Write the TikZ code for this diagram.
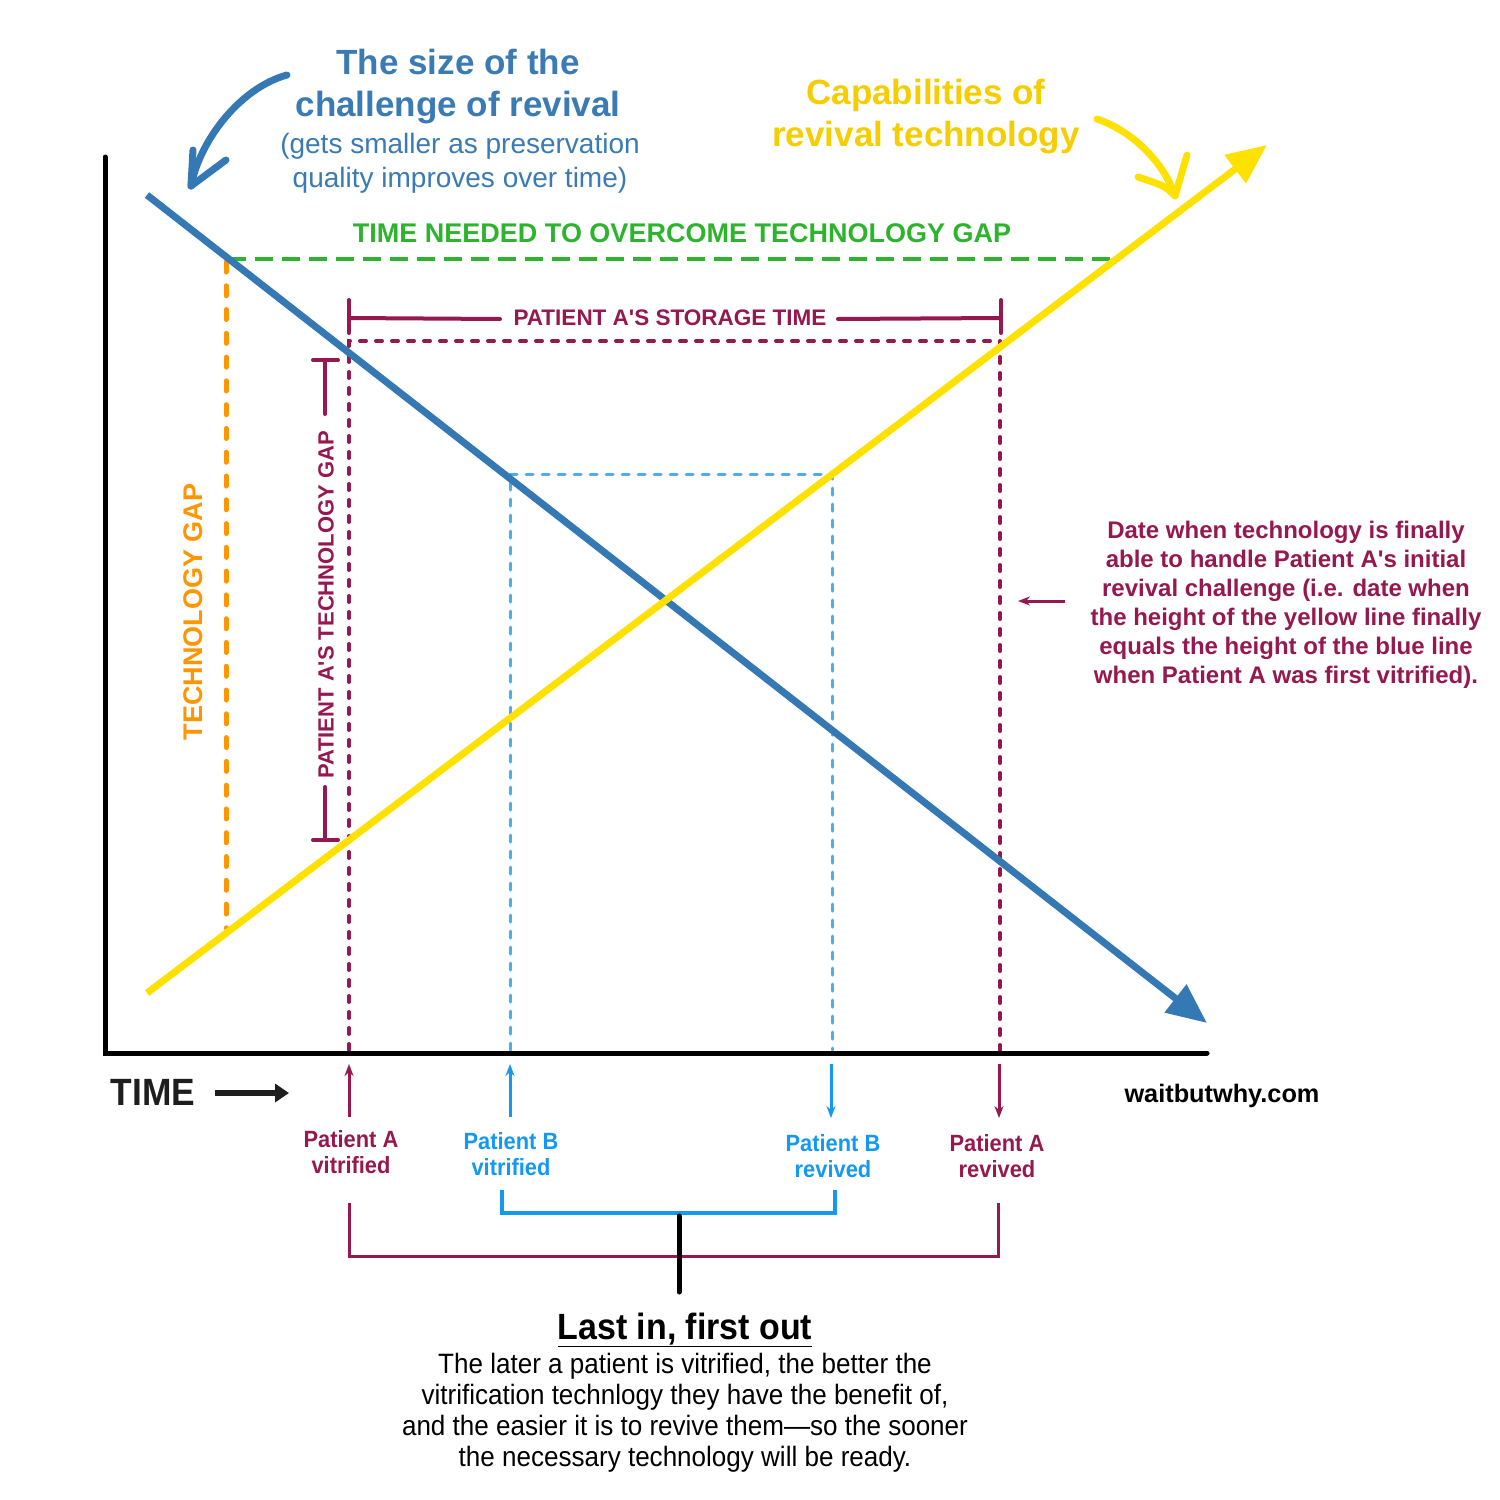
\documentclass[tikz,border=0pt]{standalone}
\usepackage{fontspec}
\setmainfont{Liberation Sans}
\newfontfamily\cond[FakeStretch=0.93]{Liberation Sans}
\usetikzlibrary{arrows.meta}
\definecolor{maroon}{RGB}{150,24,80}
\definecolor{bline}{RGB}{52,120,180}
\definecolor{btext}{RGB}{58,122,181}
\definecolor{lblue}{RGB}{80,170,240}
\definecolor{bblue}{RGB}{20,152,240}
\definecolor{yline}{RGB}{255,225,0}
\definecolor{ytext}{RGB}{245,205,0}
\definecolor{gline}{RGB}{45,180,45}
\definecolor{oline}{RGB}{255,150,0}
\definecolor{dark}{RGB}{30,30,30}
\tikzset{
  mdash/.style={maroon,line width=4pt,line cap=round,dash pattern=on 6pt off 10pt},
  bdash/.style={lblue,line width=3pt,line cap=round,dash pattern=on 7pt off 9pt},
  brk/.style={maroon,line width=4pt,line cap=round},
  smallup/.style={line width=3pt,-{Stealth[length=12pt,width=9pt]}},
  lbl/.style={font=\bfseries\cond\fontsize{23.5}{26}\selectfont,align=center,inner sep=0pt},
}
\begin{document}
\begin{tikzpicture}[x=1pt,y=-1pt]
\useasboundingbox[fill=white] (0,0) rectangle (1500,1500);

% coordinates
\coordinate (ytop) at (105,157);
\coordinate (orig) at (105,1053);
\coordinate (xend) at (1207,1053);
\coordinate (bs) at (147,195);
\coordinate (be) at (1207,1023);
\coordinate (ys) at (147,993);
\coordinate (ye) at (1267,145);

% green dashed
\coordinate (g1) at (228,259);
\coordinate (g2) at (1110,259);
\draw[gline,line width=4pt,dash pattern=on 18pt off 9pt] (g1) -- (g2);
% orange dashed
\coordinate (o1) at (226,262);
\coordinate (o2) at (226,928);
\draw[oline,line width=5pt,line cap=round,dash pattern=on 10pt off 13.78pt] (o1) -- (o2);

% maroon dashed
\coordinate (ma1) at (349,1050);
\coordinate (ma2) at (349,341);
\coordinate (ma3) at (1000,341);
\coordinate (ma4) at (1000,1050);
\draw[mdash] (ma1) -- (ma2) -- (ma3) -- (ma4);

% light blue dashed
\coordinate (lb1) at (510,1050);
\coordinate (lb2) at (510,474);
\coordinate (lb3) at (832,474);
\coordinate (lb4) at (832,1050);
\draw[bdash] (lb1) -- (lb2) -- (lb3) -- (lb4);

% axes
\draw[black,line width=5pt,line cap=round] (ytop) -- (orig) -- (xend);

% main lines
\draw[bline,line width=7pt,-{Triangle[length=40pt,width=34pt]}] (bs) -- (be);
\draw[yline,line width=7pt,-{Triangle[length=40pt,width=34pt]}] (ys) -- (ye);

% curved annotation arrows
\coordinate (ca1) at (287,75);
\coordinate (ca2) at (191,186);
\coordinate (ca3) at (193,150);
\coordinate (ca4) at (226,160);
\draw[bline,line width=7pt,line cap=round,line join=round] (ca1) .. controls (240,88) and (200,140) .. (ca2);
\draw[bline,line width=7pt,line cap=round,line join=round] (ca3) -- (ca2) -- (ca4);

\coordinate (cy1) at (1097,119);
\coordinate (cy2) at (1175,196);
\coordinate (cy3) at (1187,155);
\coordinate (cy4) at (1138,177);
\draw[yline,line width=7pt,line cap=round,line join=round] (cy1) .. controls (1135,132) and (1165,165) .. (cy2);
\draw[yline,line width=7pt,line cap=round,line join=round] (cy3) -- (cy2) .. controls (1165,186) .. (cy4);

% storage time bracket
\coordinate (st1) at (349,300);
\coordinate (st2) at (349,333);
\coordinate (st3) at (1001,300);
\coordinate (st4) at (1001,333);
\coordinate (st5) at (349,318);
\coordinate (st6) at (500,319);
\coordinate (st7) at (838,319);
\coordinate (st8) at (1001,318);
\draw[brk] (st1) -- (st2);
\draw[brk] (st3) -- (st4);
\draw[brk] (st5) -- (st6);
\draw[brk] (st7) -- (st8);
\node[maroon,font=\bfseries\fontsize{22.5}{26}\selectfont,inner sep=0pt] (storage) at (670,318) {PATIENT A\textquotesingle S STORAGE TIME};

% patient A tech gap bracket
\coordinate (pg1) at (313,360);
\coordinate (pg2) at (338,360);
\coordinate (pg3) at (325,360);
\coordinate (pg4) at (325,414);
\coordinate (pg5) at (325,787);
\coordinate (pg6) at (325,840);
\coordinate (pg7) at (313,840);
\coordinate (pg8) at (338,840);
\draw[brk] (pg1) -- (pg2);
\draw[brk] (pg3) -- (pg4);
\draw[brk] (pg5) -- (pg6);
\draw[brk] (pg7) -- (pg8);
\node[maroon,rotate=90,font=\bfseries\fontsize{22}{26}\selectfont,inner sep=0pt] (patgap) at (326,605) {PATIENT A\textquotesingle S TECHNOLOGY GAP};

\node[oline,rotate=90,font=\bfseries\fontsize{27}{30}\selectfont,inner sep=0pt] (techgap) at (193,612) {TECHNOLOGY GAP};
\node[gline,font=\bfseries\fontsize{27}{30}\selectfont,inner sep=0pt] (gaptime) at (682,233) {TIME NEEDED TO OVERCOME TECHNOLOGY GAP};

% titles
\node[btext,font=\bfseries\fontsize{35}{42}\selectfont,align=center,inner sep=0pt] (title) at (458,87) {The size of the\\challenge of revival};
\node[btext,font=\fontsize{28}{34}\selectfont,align=center,inner sep=0pt] (subtitle) at (460,163) {(gets smaller as preservation\\quality improves over time)};
\node[ytext,font=\bfseries\fontsize{35}{42}\selectfont,align=center,inner sep=0pt] (captitle) at (926,117) {Capabilities of\\revival technology};

% right note
\node[maroon,font=\bfseries\fontsize{24}{29}\selectfont,align=center,inner sep=0pt] (note) at (1286,605) {Date when technology is finally\\able to handle Patient A\textquotesingle s initial\\revival challenge (i.e. date when\\the height of the yellow line finally\\equals the height of the blue line\\when Patient A was first vitrified).};
\coordinate (na1) at (1065,601);
\coordinate (na2) at (1018,601);
\draw[maroon,line width=3pt,-{Stealth[length=12pt,width=9pt]}] (na1) -- (na2);

% time label
\node[dark,font=\bfseries\cond\fontsize{38}{40}\selectfont,inner sep=0pt] (timelbl) at (153,1092) {TIME};
\coordinate (ta1) at (215,1093);
\coordinate (ta2) at (289,1093);
\draw[dark,line width=6pt,-{Triangle[length=14pt,width=18pt]}] (ta1) -- (ta2);
\node[black,font=\bfseries\fontsize{25.3}{28}\selectfont,inner sep=0pt] (web) at (1222,1096) {waitbutwhy.com};

% small arrows
\coordinate (sa1) at (349,1117);
\coordinate (sa2) at (349,1064);
\coordinate (sb1) at (510,1117);
\coordinate (sb2) at (510,1064);
\coordinate (sc1) at (831,1064);
\coordinate (sc2) at (831,1118);
\coordinate (sd1) at (999,1064);
\coordinate (sd2) at (999,1118);
\draw[maroon,smallup] (sa1) -- (sa2);
\draw[bblue,smallup] (sb1) -- (sb2);
\draw[bblue,smallup] (sc1) -- (sc2);
\draw[maroon,smallup] (sd1) -- (sd2);

\node[lbl,maroon] (pav) at (351,1152) {Patient A\\vitrified};
\node[lbl,bblue] (pbv) at (511,1154) {Patient B\\vitrified};
\node[lbl,bblue] (pbr) at (833,1156) {Patient B\\revived};
\node[lbl,maroon] (par) at (997,1156) {Patient A\\revived};

% brackets
\coordinate (bb1) at (502,1190);
\coordinate (bb2) at (502,1213);
\coordinate (bb3) at (835,1213);
\coordinate (bb4) at (835,1190);
\draw[bblue,line width=4pt] (bb1) -- (bb2) -- (bb3) -- (bb4);
\coordinate (mb1) at (349,1203);
\coordinate (mb2) at (349,1256);
\coordinate (mb3) at (998,1256);
\coordinate (mb4) at (998,1203);
\draw[maroon,line width=3pt] (mb1) -- (mb2) -- (mb3) -- (mb4);
\coordinate (kb1) at (679,1216);
\coordinate (kb2) at (679,1292);
\draw[black,line width=5pt,line cap=round] (kb1) -- (kb2);

% bottom text
\node[black,font=\bfseries\cond\fontsize{36.5}{40}\selectfont,inner sep=0pt] (lifo) at (685,1330) {\underline{Last in, first out}};
\node[black,font=\cond\fontsize{28}{31}\selectfont,align=center,inner sep=0pt] (desc) at (685,1413) {The later a patient is vitrified, the better the\\vitrification technlogy they have the benefit of,\\and the easier it is to revive them—so the sooner\\the necessary technology will be ready.};
\end{tikzpicture}
\end{document}
